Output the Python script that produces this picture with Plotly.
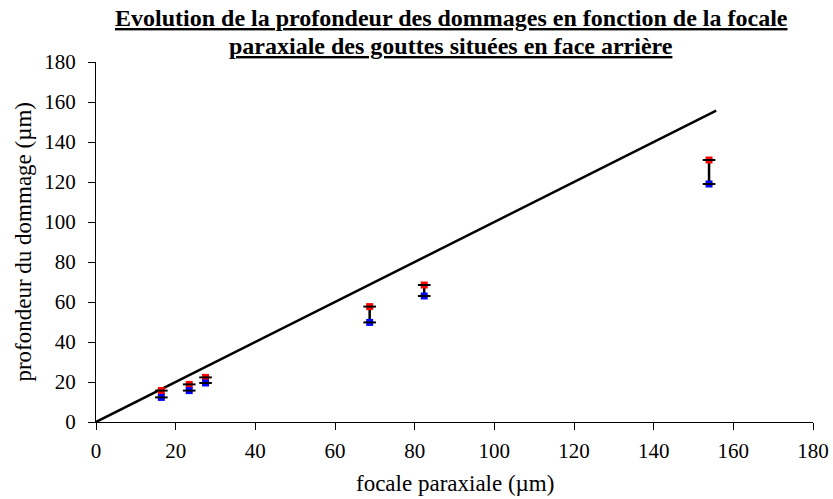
import plotly.graph_objects as go

focale = [16.4, 23.4, 27.5, 68.7, 82.4, 153.9]
prof_max = [15.7, 18.8, 22.3, 57.7, 68.5, 131.0]
prof_min = [12.3, 15.7, 19.5, 49.8, 63.0, 119.0]
ref_x = [0, 155.7]
ref_y = [0, 155.7]

title_lines = ["Evolution de la profondeur des dommages en fonction de la focale",
               "paraxiale des gouttes situées en face arrière"]
x_title = "focale paraxiale (µm)"
y_title = "profondeur du dommage (µm)"

FONT = "Liberation Serif, Times New Roman, serif"

fig = go.Figure()

fig.add_trace(go.Scatter(x=ref_x, y=ref_y, mode="lines",
                         line=dict(color="black", width=2.5), showlegend=False))

vx, vy = [], []
for x, lo, hi in zip(focale, prof_min, prof_max):
    vx += [x, x, None]
    vy += [lo, hi, None]
fig.add_trace(go.Scatter(x=vx, y=vy, mode="lines",
                         line=dict(color="black", width=2.5), showlegend=False))

fig.add_trace(go.Scatter(x=focale, y=prof_max, mode="markers",
                         marker=dict(symbol="square", size=7, color="red",
                                     line=dict(width=0)), showlegend=False))
fig.add_trace(go.Scatter(x=focale, y=prof_min, mode="markers",
                         marker=dict(symbol="square", size=7, color="blue",
                                     line=dict(width=0)), showlegend=False))
fig.add_trace(go.Scatter(x=focale + focale, y=prof_max + prof_min, mode="markers",
                         marker=dict(symbol="line-ew", size=9,
                                     line=dict(width=2, color="black")),
                         showlegend=False))

annotations = [
    dict(text="<b><u>%s</u></b>" % title_lines[0], x=0.4955, y=1.122,
         xref="paper", yref="paper", xanchor="center", yanchor="middle",
         showarrow=False, font=dict(family=FONT, size=24, color="black")),
    dict(text="<b><u>%s</u></b>" % title_lines[1], x=0.4955, y=1.044,
         xref="paper", yref="paper", xanchor="center", yanchor="middle",
         showarrow=False, font=dict(family=FONT, size=24, color="black")),
    dict(text=x_title, x=0.5, y=-0.172, xref="paper", yref="paper",
         xanchor="center", yanchor="middle", showarrow=False,
         font=dict(family=FONT, size=23, color="black")),
    dict(text=y_title, x=-0.1024, y=0.5, xref="paper", yref="paper",
         xanchor="center", yanchor="middle", textangle=-90, showarrow=False,
         font=dict(family=FONT, size=23, color="black")),
]

fig.update_layout(
    width=833, height=499,
    paper_bgcolor="white", plot_bgcolor="white",
    margin=dict(l=96, r=20, t=62, b=77, autoexpand=False),
    font=dict(family=FONT, size=21, color="black"),
    annotations=annotations,
    xaxis=dict(
        range=[0, 180], dtick=20, tick0=0, automargin=False,
        showline=True, linecolor="black", linewidth=1,
        ticks="outside", ticklen=7, tickcolor="black",
        showgrid=False, zeroline=False, ticklabelstandoff=3,
        tickfont=dict(family=FONT, size=21),
    ),
    yaxis=dict(
        range=[0, 180], dtick=20, tick0=0, automargin=False,
        showline=True, linecolor="black", linewidth=1,
        ticks="outside", ticklen=7, tickcolor="black",
        showgrid=False, zeroline=False, ticklabelstandoff=8,
        tickfont=dict(family=FONT, size=21),
    ),
)

fig.write_html("out.html", config={"displayModeBar": False},
               post_script="document.body.style.margin='0';document.body.style.overflow='hidden';")
